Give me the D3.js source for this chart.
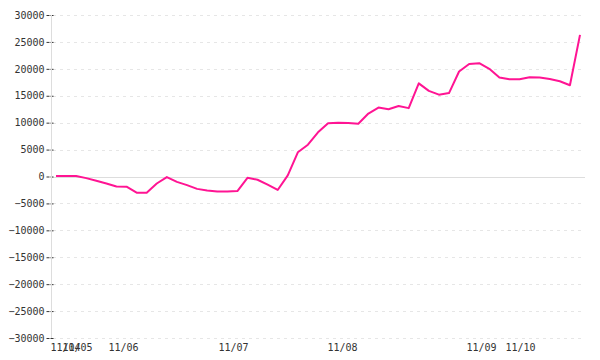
<!DOCTYPE html>
<html>
<head>
<meta charset="utf-8">
<script src="https://cdn.jsdelivr.net/npm/d3@7"></script>
<style>
  html, body { margin: 0; padding: 0; background: #fff; }
  svg { display: block; }
  text { font-family: "DejaVu Sans Mono", monospace; font-size: 10px; fill: #333; }
</style>
</head>
<body>
<svg id="chart" width="600" height="360"></svg>
<script>
// ---- data ----
const values = [
  100, 100, 100, -300, -800, -1300, -1850, -1900, -3000, -3000,
  -1300, -100, -1000, -1600, -2300, -2600, -2800, -2800, -2700, -250,
  -600, -1500, -2500, 200, 4500, 5900, 8200, 9900, 10000, 9950,
  9800, 11700, 12800, 12500, 13100, 12700, 17300, 15900, 15200, 15500,
  19500, 20900, 21050, 20000, 18400, 18050, 18050, 18450, 18400, 18100,
  17700, 16950, 26300
];
const xTickLabels = ["11/04", "11/05", "11/06", "11/07", "11/08", "11/09", "11/10"];
const xTickIndex = [0.89, 2.08, 6.65, 17.56, 28.38, 42.17, 46.04];
const yTicks = [30000, 25000, 20000, 15000, 10000, 5000, 0, -5000, -10000, -15000, -20000, -25000, -30000];

// ---- layout ----
const svg = d3.select("#chart");
const axisX = 51, plotLeft = 53, plotRight = 585;
const x = d3.scaleLinear().domain([0, values.length - 1]).range([56, 580]);
const y = d3.scaleLinear().domain([-30000, 30000]).range([338, 15]);

// grid lines
svg.append("g").selectAll("line")
  .data(yTicks.filter(d => d !== 0))
  .join("line")
  .attr("x1", plotLeft).attr("x2", plotRight)
  .attr("y1", d => Math.round(y(d)) + 0.5).attr("y2", d => Math.round(y(d)) + 0.5)
  .attr("stroke", "#e6e6e6").attr("stroke-width", 1)
  .attr("stroke-dasharray", "3,4");

// zero line
svg.append("line")
  .attr("x1", axisX).attr("x2", plotRight)
  .attr("y1", Math.round(y(0)) + 0.5).attr("y2", Math.round(y(0)) + 0.5)
  .attr("stroke", "#dddddd").attr("stroke-width", 1);

// y axis
const yAxis = d3.axisLeft(y).tickValues(yTicks).tickSize(7).tickPadding(2).tickFormat(d3.format("d"));
const gy = svg.append("g").attr("transform", `translate(${axisX + 2.5},0)`).call(yAxis);
gy.select(".domain").remove();
gy.selectAll(".tick line").attr("stroke", "#333").attr("stroke-dasharray", "3,1");
gy.selectAll(".tick text").attr("fill", "#333").style("font-family", '"DejaVu Sans Mono", monospace').style("font-size", "10px");
svg.append("line")
  .attr("x1", axisX + 0.5).attr("x2", axisX + 0.5)
  .attr("y1", y(30000)).attr("y2", y(-30000))
  .attr("stroke", "#dddddd").attr("stroke-width", 1);

// x axis labels
const xAxis = d3.axisBottom(x).tickValues(xTickIndex).tickSize(0).tickPadding(6)
  .tickFormat((d, i) => xTickLabels[i]);
const gx = svg.append("g").attr("transform", `translate(0,${y(-30000)})`).call(xAxis);
gx.select(".domain").remove();
gx.selectAll(".tick text").attr("fill", "#333").style("font-family", '"DejaVu Sans Mono", monospace').style("font-size", "10px");

// line
const line = d3.line().x((d, i) => x(i)).y(d => y(d)).curve(d3.curveLinear);
svg.append("path")
  .datum(values)
  .attr("d", line)
  .attr("fill", "none")
  .attr("stroke", "#ff1493")
  .attr("stroke-width", 2)
  .attr("stroke-linejoin", "round");
</script>
</body>
</html>
